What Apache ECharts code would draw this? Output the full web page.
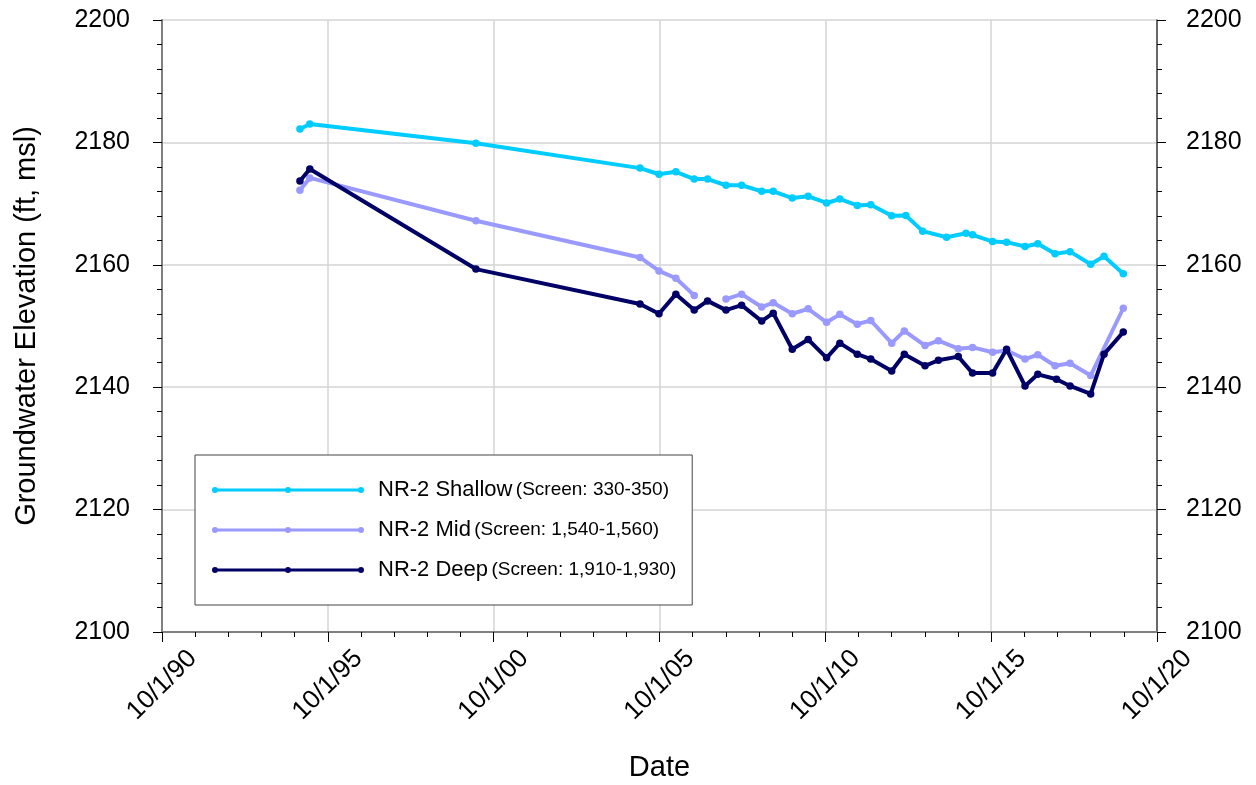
<!DOCTYPE html>
<html>
<head>
<meta charset="utf-8">
<title>NR-2 Groundwater Elevation</title>
<script src="https://cdn.jsdelivr.net/npm/echarts@6/dist/echarts.min.js"></script>
<style>
  html, body { margin: 0; padding: 0; background: #fff; }
  #chart { width: 1256px; height: 785px; }
</style>
</head>
<body>
<div id="chart"></div>
<script>
// tick labels on the date axis (every 5 years from 10/1/90)
var xTickLabels = ['10/1/90', '10/1/95', '10/1/00', '10/1/05', '10/1/10', '10/1/15', '10/1/20'];

var shallowDates = ['1994-11-28', '1995-03-17', '2000-03-19', '2005-02-28', '2005-09-25', '2006-03-30',
  '2006-10-18', '2007-03-14', '2007-10-03', '2008-03-23', '2008-10-30', '2009-03-06', '2009-10-02',
  '2010-03-26', '2010-10-15', '2011-03-10', '2011-09-18', '2012-02-13', '2012-10-01', '2013-03-06',
  '2013-09-07', '2014-05-28', '2014-12-28', '2015-03-10', '2015-10-17', '2016-03-19', '2016-10-08',
  '2017-02-26', '2017-09-04', '2018-02-16', '2018-10-01', '2019-02-25', '2019-09-25'];
var shallowElev = [2182.2, 2183.0, 2179.85, 2175.8, 2174.8, 2175.2, 2174.0, 2174.0, 2173.0, 2173.0,
  2172.0, 2172.0, 2170.9, 2171.2, 2170.1, 2170.75, 2169.7, 2169.8, 2168.0, 2168.05, 2165.5, 2164.5,
  2165.15, 2164.9, 2163.8, 2163.7, 2163.0, 2163.45, 2161.8, 2162.15, 2160.1, 2161.4, 2158.55];

var midDates = ['1994-11-28', '1995-03-17', '2000-03-19', '2005-02-28', '2005-09-25', '2006-03-30',
  '2006-10-18', '2007-03-14', '2007-10-03', '2008-03-23', '2008-10-30', '2009-03-06', '2009-10-02',
  '2010-03-26', '2010-10-15', '2011-03-10', '2011-09-18', '2012-02-13', '2012-10-01', '2013-02-17',
  '2013-10-03', '2014-02-27', '2014-10-04', '2015-03-10', '2015-10-17', '2016-03-19', '2016-10-08',
  '2017-02-26', '2017-09-04', '2018-02-16', '2018-10-01', '2019-09-25'];
var midElev = [2172.2, 2174.2, 2167.2, 2161.2, 2159.0, 2157.8, 2155.0, null, 2154.4, 2155.2,
  2153.1, 2153.8, 2152.0, 2152.8, 2150.6, 2151.9, 2150.3, 2150.9, 2147.2, 2149.2, 2146.8, 2147.6,
  2146.3, 2146.5, 2145.7, 2146.0, 2144.6, 2145.3, 2143.5, 2143.9, 2141.9, 2152.9];

var deepDates = ['1994-11-28', '1995-03-17', '2000-03-19', '2005-02-28', '2005-09-25', '2006-03-30',
  '2006-10-18', '2007-03-14', '2007-10-03', '2008-03-23', '2008-10-30', '2009-03-06', '2009-10-02',
  '2010-03-26', '2010-10-15', '2011-03-10', '2011-09-18', '2012-02-13', '2012-10-01', '2013-02-17',
  '2013-10-03', '2014-02-27', '2014-10-04', '2015-03-10', '2015-10-17', '2016-03-19', '2016-10-08',
  '2017-02-26', '2017-09-20', '2018-02-16', '2018-10-01', '2019-02-25', '2019-09-25'];
var deepElev = [2173.7, 2175.65, 2159.3, 2153.6, 2152.0, 2155.2, 2152.6, 2154.1, 2152.6, 2153.4,
  2150.8, 2152.1, 2146.2, 2147.8, 2144.8, 2147.2, 2145.4, 2144.6, 2142.65, 2145.4, 2143.5, 2144.4,
  2145.0, 2142.3, 2142.3, 2146.2, 2140.2, 2142.1, 2141.3, 2140.2, 2138.9, 2145.4, 2149.0];

var seriesNames = ['NR-2 Shallow (Screen: 330-350)', 'NR-2 Mid (Screen: 1,540-1,560)', 'NR-2 Deep (Screen: 1,910-1,930)'];
var seriesColors = ['#00ccff', '#9999ff', '#000066'];

var FONT = '"Liberation Sans", Arial, sans-serif';
var ORIGIN = Date.UTC(1990, 9, 1);

// years since 10/1/90
function toX(s) {
  return (Date.parse(s) - ORIGIN) / (365.25 * 864e5);
}
function pairs(dates, vals) {
  return dates.map(function (d, i) { return [toX(d), vals[i]]; });
}

// line with a dot at both ends and in the middle, like the excel legend key
var legendKey = 'path://M3,1.5L149,1.5L149,4.5L3,4.5Z' +
  'M0,3A3,3,0,1,1,6,3A3,3,0,1,1,0,3Z' +
  'M73,3A3,3,0,1,1,79,3A3,3,0,1,1,73,3Z' +
  'M146,3A3,3,0,1,1,152,3A3,3,0,1,1,146,3Z';

var chart = echarts.init(document.getElementById('chart'));

var yCommon = {
  type: 'value', min: 2100, max: 2200, interval: 20,
  axisLabel: { color: '#000', fontSize: 25, fontFamily: FONT, formatter: function (v) { return String(v); } },
  axisTick: { show: true, inside: false, length: 9, lineStyle: { color: '#000', width: 1 } },
  minorTick: { show: true, splitNumber: 5, length: 5, lineStyle: { color: '#000', width: 1 } }
};

var option = {
  animation: false,
  backgroundColor: '#fff',
  textStyle: { fontFamily: FONT },
  grid: { left: 162, right: 99, top: 20, bottom: 153, containLabel: false, outerBoundsMode: 'none' },
  legend: {
    orient: 'vertical',
    left: 195, top: 455,
    padding: [24, 16, 24, 17],
    itemGap: 18,
    itemWidth: 152, itemHeight: 6,
    icon: legendKey,
    borderColor: '#444', borderWidth: 1,
    backgroundColor: '#fff',
    data: seriesNames,
    formatter: function (name) {
      var k = name.indexOf(' (');
      return '{a|' + name.slice(0, k) + '} {b|' + name.slice(k + 1) + '}';
    },
    textStyle: {
      color: '#000',
      rich: {
        a: { fontSize: 22, fontFamily: FONT, color: '#000', lineHeight: 26, padding: [0, 0, 0, 9] },
        b: { fontSize: 19, fontFamily: FONT, color: '#000', lineHeight: 26 }
      }
    }
  },
  xAxis: {
    type: 'value', min: 0, max: 30, interval: 5,
    name: 'Date', nameLocation: 'middle', nameGap: 136,
    nameTextStyle: { fontSize: 29, color: '#000', fontFamily: FONT, verticalAlign: 'middle' },
    axisLine: { show: true, onZero: false, lineStyle: { color: '#808080', width: 2 } },
    axisTick: { show: true, length: 10, lineStyle: { color: '#000', width: 1 } },
    minorTick: { show: true, splitNumber: 5, length: 5, lineStyle: { color: '#000', width: 1 } },
    splitLine: { show: true, lineStyle: { color: '#d4d4d4', width: 1.5 } },
    axisLabel: {
      rotate: 45, align: 'center', verticalAlign: 'middle', margin: 53,
      color: '#000', fontSize: 26, fontFamily: FONT,
      formatter: function (v) { return xTickLabels[Math.round(v / 5)]; }
    }
  },
  yAxis: [
    Object.assign({}, yCommon, {
      position: 'left',
      name: 'Groundwater Elevation (ft, msl)', nameLocation: 'middle', nameGap: 135,
      nameTextStyle: { fontSize: 29, color: '#000', fontFamily: FONT, verticalAlign: 'middle' },
      axisLine: { show: true, lineStyle: { color: '#808080', width: 2 } },
      axisLabel: Object.assign({}, yCommon.axisLabel, { margin: 32 }),
      splitLine: { show: true, lineStyle: { color: '#d4d4d4', width: 1.5 } }
    }),
    Object.assign({}, yCommon, {
      position: 'right',
      axisLine: { show: true, lineStyle: { color: '#404040', width: 1.5 } },
      axisLabel: Object.assign({}, yCommon.axisLabel, { margin: 29 }),
      splitLine: { show: false }
    })
  ],
  series: [
    { data: pairs(shallowDates, shallowElev) },
    { data: pairs(midDates, midElev) },
    { data: pairs(deepDates, deepElev) }
  ].map(function (s, i) {
    return {
      name: seriesNames[i],
      type: 'line',
      yAxisIndex: 0,
      data: s.data,
      connectNulls: false,
      symbol: 'circle',
      symbolSize: 7.5,
      showAllSymbol: true,
      itemStyle: { color: seriesColors[i], borderWidth: 0 },
      lineStyle: { color: seriesColors[i], width: 4 },
      z: 2 + i
    };
  })
};

chart.setOption(option);
</script>
</body>
</html>
